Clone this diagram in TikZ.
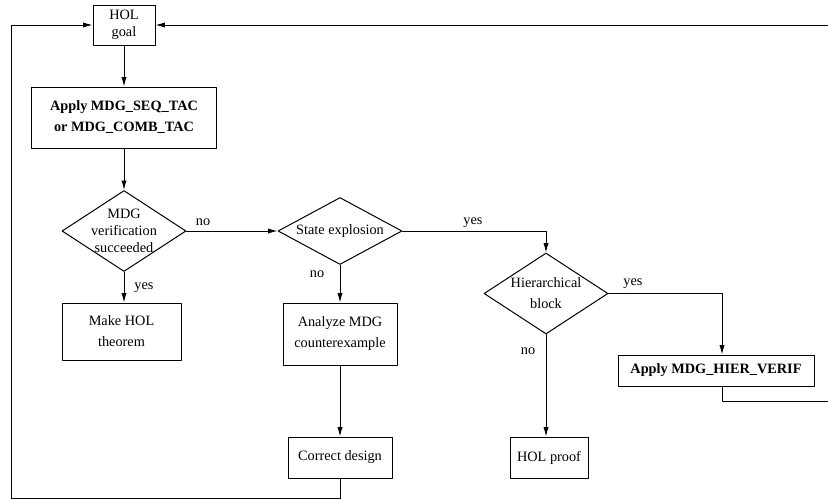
\documentclass[tikz,border=0pt]{standalone}
\usepackage{fontspec}
\setmainfont{Liberation Serif}
\usetikzlibrary{shapes.geometric,arrows.meta}
\begin{document}
\begin{tikzpicture}[x=0.7pt,y=-0.7pt,line cap=round,line join=round,
    >={Latex[length=6.5pt,width=3.6pt]},
    box/.style={draw,line width=0.7pt,inner sep=0pt,align=center},
    decision/.style={draw,diamond,line width=0.7pt,inner sep=-2pt,align=center},
    link/.style={line width=0.7pt,->}]
  \useasboundingbox (0,0) rectangle (828,502);
  % main column
  \node[box,minimum width=43.4pt,minimum height=28pt] (goal) at (124,25) {HOL\\goal};
  \node[box,minimum width=129.5pt,minimum height=42.7pt,font=\bfseries] (apply) at (124,117.5)
    {Apply MDG\_SEQ\_TAC\\[2.7pt]or MDG\_COMB\_TAC};
  \node[decision,aspect=1.53,minimum width=86.8pt,minimum height=56.7pt] (verif) at (124,231)
    {MDG\\verification\\succeeded};
  \node[box,minimum width=83.3pt,minimum height=39.9pt] (make) at (121.5,331.5)
    {Make HOL\\[2.7pt]theorem};
  % state explosion branch
  \node[decision,aspect=1.85,minimum width=86.8pt,minimum height=46.9pt] (state) at (340,231)
    {State explosion};
  \node[box,minimum width=79.8pt,minimum height=43.4pt] (analyze) at (340,334)
    {Analyze MDG\\[2.7pt]counterexample};
  \node[box,minimum width=72.8pt,minimum height=28.7pt] (correct) at (340,457.5) {Correct design};
  % hierarchical branch
  \node[decision,aspect=1.53,minimum width=86.8pt,minimum height=56.7pt] (hier) at (546,293.5)
    {Hierarchical\\[2.7pt]block};
  \node[box,minimum width=137.2pt,minimum height=21.7pt,font=\bfseries] (hierverif) at (716,370.5)
    {Apply MDG\_HIER\_VERIF};
  \node[box,minimum width=54.6pt,minimum height=28.7pt] (holproof) at (549,457.5) {HOL proof};
  % labels
  \node (no1) at (203,222) {no};
  \node (yes1) at (144,288) {yes};
  \node (no2) at (317,274) {no};
  \node (yes2) at (473,223) {yes};
  \node (yes3) at (633,284) {yes};
  \node (no3) at (528,351) {no};
  % loop corners
  \coordinate (lowleft) at (11,498);
  \coordinate (upleft) at (11,25);
  \coordinate (rightlow) at (828,401);
  \coordinate (righttop) at (828,25);
  % connectors
  \draw[link] (goal.south) -- (goal.south |- apply.north);
  \draw[link] (apply.south) -- (verif.north);
  \draw[link] (verif.east) -- (state.west);
  \draw[link] (verif.south) -- (verif.south |- make.north);
  \draw[link] (state.south) -- (analyze.north);
  \draw[link] (analyze.south) -- (correct.north);
  \draw[link] (state.east) -| (hier.north);
  \draw[link] (hier.east) -| ([xshift=4.2pt]hierverif.north);
  \draw[link] (hier.south) -- (hier.south |- holproof.north);
  \draw[link] (correct.south) |- (lowleft) -- (upleft) -- (goal.west);
  \draw[line width=0.7pt] ([xshift=4.2pt]hierverif.south) |- (rightlow);
  \draw[link] (righttop) -- (goal.east);
\end{tikzpicture}
\end{document}
